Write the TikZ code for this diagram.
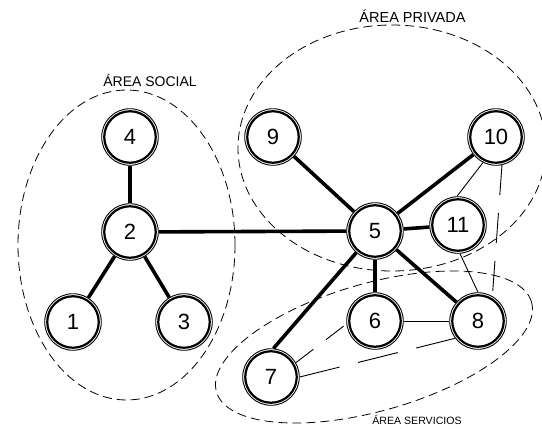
\documentclass[tikz,border=0pt]{standalone}
\usepackage{fontspec}
\setmainfont{Liberation Sans}
\begin{document}
\begin{tikzpicture}[x=1pt,y=-1pt,
  nd/.style={circle, draw, fill=white, line width=2.2pt, minimum size=51.5pt, inner sep=0pt, outer sep=3pt, font=\fontsize{22}{22}\selectfont},
  ring/.style={line width=0.9pt},
  strong/.style={line width=3.6pt},
  weak/.style={line width=0.9pt},
  zone/.style={line width=0.8pt, dash pattern=on 9pt off 5pt},
  lab/.style={anchor=base, inner sep=0pt}]
\useasboundingbox (0,0) rectangle (542,429);
% zones
\draw[zone] (126.5,245) ellipse [x radius=108.5pt, y radius=155pt];
\draw[zone] (392,148) ellipse [x radius=154pt, y radius=123pt];
\draw[zone, rotate around={15.9:(374,347)}] (374,347) ellipse [x radius=163.8pt, y radius=63.8pt];
% labels
\node[lab, font=\fontsize{14}{14}\selectfont] (tsocial) at (150,86) {ÁREA SOCIAL};
\node[lab, font=\fontsize{14.5}{14.5}\selectfont] (tpriv) at (412.5,22) {ÁREA PRIVADA};
\node[lab, font=\fontsize{10.6}{10.6}\selectfont] (tserv) at (417,424) {ÁREA SERVICIOS};
% nodes
\node[nd] (1) at (73,322) {1};
\node[nd] (2) at (130,232) {2};
\node[nd] (3) at (184,322) {3};
\node[nd] (4) at (130,137) {4};
\node[nd] (5) at (375,231) {5};
\node[nd] (6) at (375,321) {6};
\node[nd] (7) at (271,377) {7};
\node[nd] (8) at (478,321) {8};
\node[nd] (9) at (273,137) {9};
\node[nd] (10) at (496,137) {10};
\node[nd] (11) at (458,225) {11};
\foreach \n in {1,...,11} \draw[ring] (\n.center) circle (28.3pt);
% strong edges
\draw[strong] (4) -- (2);
\draw[strong] (2) -- (1);
\draw[strong] (2) -- (3);
\draw[strong] (2) -- (5);
\draw[strong] (9) -- (5);
\draw[strong] (10) -- (5);
\draw[strong] (5) -- (11);
\draw[strong] (5) -- (6);
\draw[strong] (5) -- (7.85);
\draw[strong] (5) -- (8);
% weak edges
\draw[weak] (10.243) -- (11.92);
\draw[weak] (11.-86) -- (8.90);
\draw[weak] (6) -- (8);
\draw[weak, dash pattern=on 30pt off 18pt] (10.-78) -- (8.60);
\draw[weak, dash pattern=on 22pt off 16pt] (7.30) -- (6.186);
\draw[weak, dash pattern=on 41pt off 19pt] (7.0) -- (8.217);
\end{tikzpicture}
\end{document}
